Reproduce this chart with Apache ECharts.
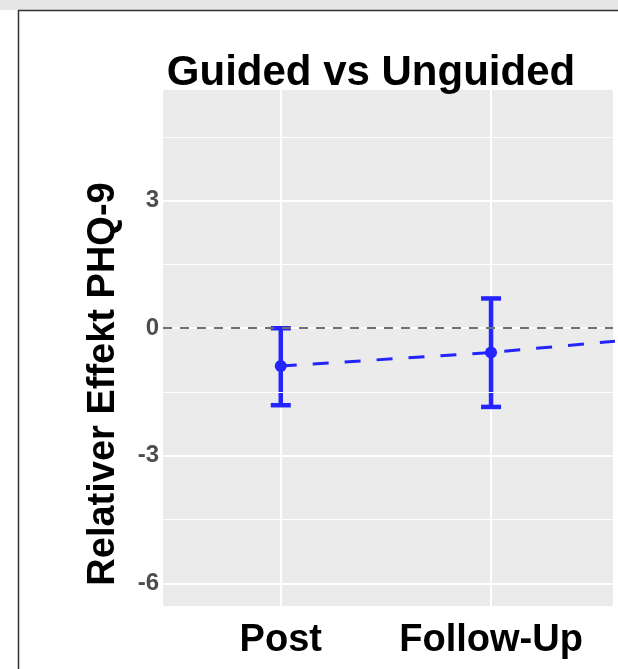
<!DOCTYPE html>
<html>
<head>
<meta charset="utf-8">
<script src="https://cdn.jsdelivr.net/npm/echarts@6/dist/echarts.min.js"></script>
<style>
  html, body { margin: 0; padding: 0; background: #fff; }
  #chart { width: 618px; height: 669px; }
</style>
</head>
<body>
<div id="chart"></div>
<script>
// values
const categories = ['Post', 'Follow-Up', ''];   // third timepoint lies outside the crop
const means = [-0.89, -0.57, -0.12];
const upper = [0.0, 0.70, null];
const lower = [-1.81, -1.85, null];
const yTicks = [-6, -3, 0, 3];
const yMinor = [-4.5, -1.5, 1.5, 4.5];

const font = '"Liberation Sans", Arial, Helvetica, sans-serif';
const blue = '#2424ff';

let chart = echarts.init(document.getElementById('chart'));

const linePts = means.map((m, i) => [i + 1, m]);
const barPts = [];
for (let i = 0; i < means.length; i++) {
    if (upper[i] !== null) barPts.push([i + 1, upper[i], lower[i]]);
}
const catPos = categories.map((c, i) => i + 1);

chart.setOption({
    backgroundColor: '#fff',
    animation: false,
    title: {
        text: 'Guided vs Unguided',
        left: 366,
        textAlign: 'center',
        top: 47,
        textStyle: { fontFamily: font, fontWeight: 'bold', fontSize: 42, color: '#000' }
    },
    grid: {
        left: 163,
        right: 5,
        top: 90,
        bottom: 63,
        show: true,
        backgroundColor: '#ebebeb',
        borderWidth: 0
    },
    xAxis: {
        type: 'value',
        min: 0.44,
        max: 2.58,
        axisLine: { show: false },
        axisTick: {
            show: true,
            customValues: catPos,
            length: 3,
            lineStyle: { color: '#333', width: 1.5 }
        },
        axisLabel: {
            customValues: catPos,
            margin: 16,
            formatter: v => categories[Math.round(v) - 1],
            fontFamily: font,
            fontWeight: 'bold',
            fontSize: 38,
            color: '#000'
        },
        splitLine: { show: true, lineStyle: { color: '#fff', width: 2 } }
    },
    yAxis: {
        type: 'value',
        min: -6.53,
        max: 5.6,
        name: 'Relativer Effekt PHQ-9',
        nameLocation: 'middle',
        nameRotate: 90,
        nameGap: 40,
        nameTextStyle: {
            fontFamily: font, fontWeight: 'bold', fontSize: 38, color: '#000',
            padding: [0, 72, 0, 0]
        },
        axisLine: { show: false },
        axisTick: { show: false, customValues: yTicks },
        axisLabel: {
            customValues: yTicks,
            margin: 4,
            fontFamily: font,
            fontWeight: 'bold',
            fontSize: 24,
            color: '#4d4d4d'
        },
        splitLine: { show: true, lineStyle: { color: '#fff', width: 2 } }
    },
    graphic: [
        { type: 'rect', shape: { x: 0, y: 0, width: 618, height: 10 }, style: { fill: '#e6e6e6' }, z: 100 },
        { type: 'line', shape: { x1: 18, y1: 10.5, x2: 618, y2: 10.5 }, style: { stroke: '#333', lineWidth: 1.5 }, z: 100 },
        { type: 'line', shape: { x1: 18.5, y1: 10, x2: 18.5, y2: 669 }, style: { stroke: '#333', lineWidth: 1.5 }, z: 100 }
    ],
    series: [
        {
            // minor grid and zero reference
            type: 'line',
            data: [],
            z: 1,
            markLine: {
                silent: true,
                symbol: 'none',
                label: { show: false },
                data: yMinor.map(v => ({ yAxis: v, lineStyle: { color: '#fff', width: 1, type: 'solid' } }))
                    .concat([{ yAxis: 0, lineStyle: { color: '#707070', width: 2, type: [9, 8] } }])
            }
        },
        {
            type: 'line',
            data: linePts,
            z: 3,
            symbol: 'circle',
            symbolSize: 12,
            itemStyle: { color: blue },
            lineStyle: { color: blue, width: 3, type: [16, 16] }
        },
        {
            type: 'custom',
            z: 4,
            data: barPts,
            renderItem: function (params, api) {
                const x = api.value(0);
                const top = api.coord([x, api.value(1)]);
                const bot = api.coord([x, api.value(2)]);
                const half = 10;
                const style = { stroke: blue, lineWidth: 4.5 };
                return {
                    type: 'group',
                    children: [
                        { type: 'line', shape: { x1: top[0], y1: top[1], x2: bot[0], y2: bot[1] }, style: style },
                        { type: 'line', shape: { x1: top[0] - half, y1: top[1], x2: top[0] + half, y2: top[1] }, style: style },
                        { type: 'line', shape: { x1: bot[0] - half, y1: bot[1], x2: bot[0] + half, y2: bot[1] }, style: style }
                    ]
                };
            }
        }
    ]
});
</script>
</body>
</html>
